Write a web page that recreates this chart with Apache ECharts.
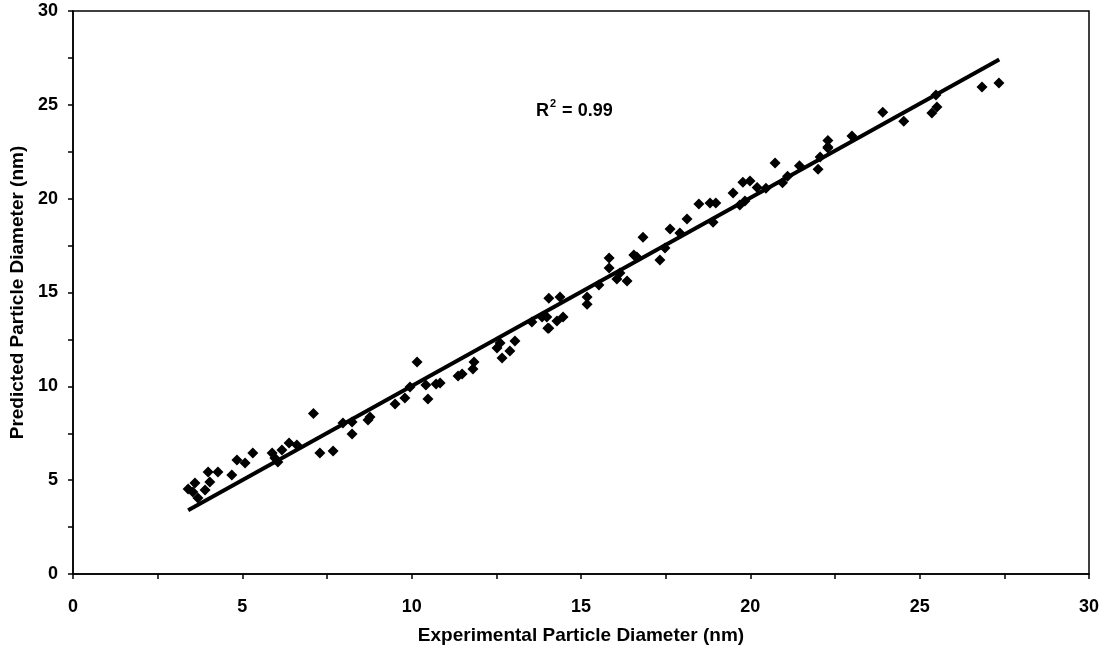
<!DOCTYPE html>
<html><head><meta charset="utf-8">
<script src="https://cdn.jsdelivr.net/npm/echarts@6/dist/echarts.min.js"></script>
<style>html,body{margin:0;padding:0;background:#fff}#c{width:1104px;height:654px}</style>
</head><body><div id="c"></div>
<script>
const xTicks = [0, 5, 10, 15, 20, 25, 30];
const yTicks = [0, 5, 10, 15, 20, 25, 30];
const experimental = [3.40,3.54,3.60,3.69,3.90,3.99,4.04,4.28,4.69,4.84,5.08,5.31,5.88,5.96,6.05,6.17,6.38,6.61,7.10,7.29,7.68,7.97,8.24,8.24,8.71,8.77,9.51,9.80,9.95,10.16,10.42,10.48,10.72,10.84,11.37,11.49,11.81,11.84,12.52,12.61,12.67,12.90,13.05,13.55,13.85,13.99,14.02,14.05,14.05,14.29,14.38,14.47,15.18,15.18,15.53,15.83,15.83,16.06,16.15,16.36,16.56,16.65,16.83,17.33,17.48,17.63,17.92,18.13,18.48,18.81,18.90,18.98,19.49,19.69,19.78,19.84,19.99,20.20,20.46,20.73,20.95,21.10,21.45,22.00,22.06,22.29,22.29,22.29,23.00,23.91,24.53,25.36,25.48,25.51,26.84,27.34];
const predicted    = [4.53,4.37,4.85,4.05,4.48,5.43,4.90,5.43,5.27,6.07,5.91,6.45,6.45,6.18,5.97,6.61,6.98,6.87,8.55,6.45,6.55,8.04,7.46,8.10,8.20,8.37,9.06,9.38,9.96,11.29,10.07,9.32,10.12,10.18,10.55,10.66,10.92,11.29,12.04,12.31,11.51,11.88,12.41,13.43,13.69,13.69,13.10,14.70,13.10,13.48,14.76,13.69,14.76,14.38,15.40,16.84,16.30,15.72,16.04,15.61,17.00,16.89,17.95,16.73,17.37,18.38,18.17,18.91,19.71,19.77,18.75,19.77,20.30,19.66,20.88,19.87,20.94,20.60,20.56,21.90,20.85,21.20,21.75,21.57,22.22,22.75,23.10,22.70,23.34,24.60,24.13,24.56,25.52,24.88,25.95,26.16];
const fitX = [3.40, 27.35];
const fitY = [3.40, 27.42];

const pts = experimental.map((v, i) => [v, predicted[i]]);
const fit = fitX.map((v, i) => [v, fitY[i]]);
const font = '"Liberation Sans", Arial, sans-serif';

const chart = echarts.init(document.getElementById('c'));
chart.setOption({
  animation: false,
  backgroundColor: '#fff',
  grid: { left: 73, right: 15, top: 11, bottom: 80, show: true, borderColor: '#000', borderWidth: 1.5, backgroundColor: 'transparent' },
  xAxis: {
    type: 'value', min: 0, max: 30, interval: 5,
    name: 'Experimental Particle Diameter (nm)', nameLocation: 'middle', nameGap: 52,
    nameTextStyle: { fontFamily: font, fontWeight: 'bold', fontSize: 19, color: '#000' },
    axisLine: { show: true, lineStyle: { color: '#000', width: 1.5 } },
    axisTick: { show: true, inside: false, length: 5, lineStyle: { color: '#000', width: 1.5 } },
    minorTick: { show: true, splitNumber: 2, length: 5, lineStyle: { color: '#000', width: 1.5 } },
    splitLine: { show: false },
    axisLabel: { fontFamily: font, fontWeight: 'bold', fontSize: 18, color: '#000', margin: 24,
      formatter: v => xTicks.includes(v) ? String(v) : '' }
  },
  yAxis: {
    type: 'value', min: 0, max: 30, interval: 5,
    name: 'Predicted Particle Diameter (nm)', nameLocation: 'middle', nameGap: 42,
    nameTextStyle: { fontFamily: font, fontWeight: 'bold', fontSize: 19, color: '#000' },
    axisLine: { show: true, lineStyle: { color: '#000', width: 1.5 } },
    axisTick: { show: true, inside: false, length: 5, lineStyle: { color: '#000', width: 1.5 } },
    minorTick: { show: true, splitNumber: 2, length: 5, lineStyle: { color: '#000', width: 1.5 } },
    splitLine: { show: false },
    axisLabel: { fontFamily: font, fontWeight: 'bold', fontSize: 18, color: '#000', margin: 15,
      formatter: v => yTicks.includes(v) ? String(v) : '' }
  },
  graphic: [{
    type: 'text', left: 536, top: 98,
    style: {
      text: '{r|R}{s|2}{r| = 0.99}',
      rich: {
        r: { fontFamily: font, fontWeight: 'bold', fontSize: 18, fill: '#000', verticalAlign: 'bottom', lineHeight: 22 },
        s: { fontFamily: font, fontWeight: 'bold', fontSize: 11, fill: '#000', verticalAlign: 'top', lineHeight: 22, padding: [0, 1, 9, 1] }
      }
    }
  }],
  series: [
    { type: 'line', data: fit, symbol: 'none', lineStyle: { color: '#000', width: 4 }, z: 2 },
    { type: 'scatter', data: pts, symbol: 'diamond', symbolSize: 11, itemStyle: { color: '#000', opacity: 1 }, z: 3 }
  ]
});
</script></body></html>
